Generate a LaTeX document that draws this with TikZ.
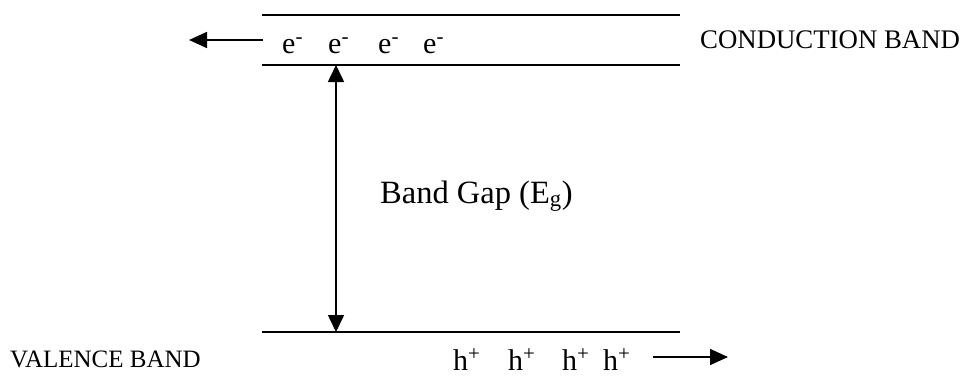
\documentclass[tikz,border=0pt]{standalone}
\usepackage{fontspec}
\setmainfont{Liberation Serif}
\usetikzlibrary{arrows.meta}
\tikzset{
  band/.style={line width=1.6pt},
  flow/.style={line width=1.6pt,-{Triangle[length=18pt,width=16pt]}},
  gap/.style={line width=1.6pt,{Triangle[length=17pt,width=16pt]}-{Triangle[length=17pt,width=16pt]}},
  lbl/.style={inner sep=0pt,font=\fontsize{26.8}{30}\selectfont},
  carrier/.style={inner sep=0pt,anchor=base west,font=\fontsize{30}{34}\selectfont}
}
\begin{document}
\begin{tikzpicture}[x=1pt,y=-1pt]
\useasboundingbox (0,0) rectangle (965,378);
% bands
\draw[band] (262,15) -- (680,15);
\draw[band] (262,65) -- (680,65);
\draw[band] (262,332) -- (680,332);
% carriers
\foreach \x [count=\i] in {282,328,378,423}
  \node[carrier] (e\i) at (\x,53) {e\textsuperscript{-}};
\foreach \x [count=\i] in {453,508,562,603}
  \node[carrier] (h\i) at (\x,370) {h\textsuperscript{+}};
\node[lbl,anchor=base west] (cb) at (700,48) {CONDUCTION BAND};
\node[lbl,anchor=base west,font=\fontsize{25}{30}\selectfont] (vb) at (10,367) {VALENCE BAND};
\node[lbl,anchor=base west,font=\fontsize{32.5}{36}\selectfont] (eg) at (380,203) {Band Gap (E\textsubscript{g})};
% arrows
\coordinate (ctop) at (336,65);
\coordinate (vbot) at (336,332);
\coordinate (ein) at (263,40);
\coordinate (eout) at (189,40);
\coordinate (hin) at (653,357);
\coordinate (hout) at (728,357);
\draw[gap] (ctop) -- (vbot);
\draw[flow] (ein) -- (eout);
\draw[flow] (hin) -- (hout);
\end{tikzpicture}
\end{document}
